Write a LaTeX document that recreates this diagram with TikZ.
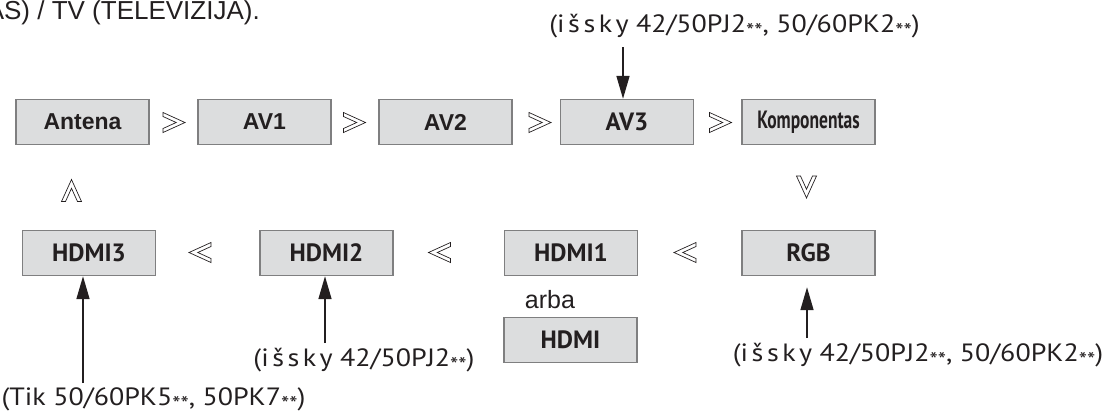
\documentclass[tikz,border=0pt]{standalone}
\usepackage{fontspec}
\setmainfont{Liberation Sans}
\newfontfamily\ptsans{PT Sans}
\newfontfamily\ptnote{PT Sans}[FakeStretch=1.12]
\newfontfamily\ptwide{PT Sans}[FakeStretch=1.12, LetterSpace=14]
\usetikzlibrary{arrows.meta, positioning, calc}
\definecolor{ink}{HTML}{231F20}
\definecolor{boxgray}{HTML}{DCDDDE}
\definecolor{edgegray}{HTML}{7F7F80}
\newcommand\stars{\raisebox{-0.5ex}{\fontsize{21pt}{21pt}\selectfont**}}
\tikzset{
  srcbox/.style={draw=edgegray, fill=boxgray, line width=1.4pt, minimum width=133pt,
    minimum height=45pt, inner sep=0pt, text=ink},
  arialb/.style={font=\fontsize{23pt}{23pt}\selectfont\bfseries},
  mynb/.style={font=\ptsans\fontsize{25pt}{25pt}\selectfont\bfseries},
  note/.style={text=ink, inner sep=0pt, anchor=base, font=\ptnote\fontsize{25pt}{25pt}\selectfont},
  arr/.style={ink, line width=1.6pt, -{Triangle[length=23pt,width=13pt]}},
  chev/.pic={\draw[ink, line width=0.7pt, line join=miter]
    (-11,-10)--(11,0)--(-11,10)--(-11,6)--(2.2,0)--(-11,-6)--cycle;}
}

\begin{document}
\begin{tikzpicture}[x=1pt, y=-1pt]
  \useasboundingbox (0,0) rectangle (1108,416);
  \node[anchor=base east, text=ink, inner sep=0pt, font=\fontsize{26pt}{26pt}\selectfont] (hdr) at (260,19) {AS) / TV (TELEVIZIJA).};

  % top row
  \foreach \nm/\xx/\txt in {ant/82.5/Antena, av1/264.5/AV1, av2/445.5/AV2}
     \node[srcbox, arialb] (\nm) at (\xx,122) {\txt};
  \node[srcbox, mynb] (av3) at (627,122) {AV3};
  \node[srcbox, mynb] (komp) at (808.5,122) {\scalebox{0.7}[1]{Komponentas}};

  % bottom row
  \foreach \nm/\xx/\txt in {hd3/89/HDMI3, hd2/326.5/HDMI2, hd1/571/HDMI1, rgb/808.5/RGB}
     \node[srcbox, mynb] (\nm) at (\xx,253) {\txt};
  \node[anchor=base, text=ink, inner sep=0pt, font=\fontsize{25pt}{25pt}\selectfont] (arba) at (550,308) {arba};
  \node[srcbox, mynb] (hdmi) at (570.5,340) {HDMI};

  % chevrons
  \foreach \xx in {174, 354.5, 540, 720.5} \pic at (\xx,122.5) {chev};
  \foreach \xx in {200, 439.5, 685} \pic[rotate=180] at (\xx,252.5) {chev};
  \pic[rotate=90] at (71.5,190.5) {chev};
  \pic[rotate=-90] at (806.5,187) {chev};

  % notes
  \node[note] (ntop) at (734.5,32) {({\ptwide išsky} 42/50PJ2\stars, 50/60PK2\stars)};
  \node[note] (nhd2) at (364,366) {({\ptwide išsky} 42/50PJ2\stars)};
  \node[note] (nhd3) at (153.5,405) {(Tik 50/60PK5\stars, 50PK7\stars)};
  \node[note] (nrgb) at (918,361) {({\ptwide išsky} 42/50PJ2\stars, 50/60PK2\stars)};

  \coordinate (s3) at (623,47);
  \coordinate (sh3) at (83,383);
  \coordinate (sh2) at (325,343);
  \coordinate (srgb) at (807,338);
  \draw[arr] (s3) -- (s3 |- av3.north);
  \draw[arr] (sh3) -- (sh3 |- hd3.south);
  \draw[arr] (sh2) -- (sh2 |- hd2.south);
  \draw[arr, shorten >=11pt] (srgb) -- (srgb |- rgb.south);
\end{tikzpicture}
\end{document}
